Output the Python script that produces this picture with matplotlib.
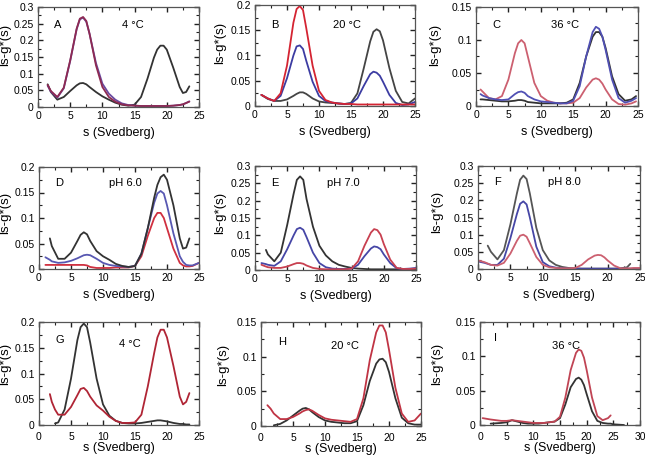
import matplotlib
matplotlib.use("Agg")
import matplotlib.pyplot as plt
import numpy as np
from matplotlib.ticker import MultipleLocator, FormatStrFormatter

nan = np.nan

# ---- panel A (4 C)
a_s = [1.5, 2, 3, 4, 5, 6, 6.5, 7, 7.5, 8, 9, 10, 11, 12, 13, 14, 15, 16, 17, 18, 18.5, 19, 19.5, 20, 21, 22, 22.5, 23, 23.5]
a_black = [0.068, 0.045, 0.022, 0.030, 0.048, 0.065, 0.071, 0.072, 0.068, 0.060, 0.045, 0.032, 0.022, 0.013, 0.007, 0.004, 0.007, 0.030, 0.085, 0.148, 0.172, 0.184, 0.184, 0.172, 0.118, 0.060, 0.042, 0.045, 0.062]
a_blue = [0.064, 0.046, 0.028, 0.056, 0.138, 0.233, 0.263, 0.268, 0.256, 0.220, 0.132, 0.070, 0.040, 0.022, 0.011, 0.006, 0.004, 0.003, 0.003, 0.003, 0.003, 0.003, 0.003, 0.003, 0.004, 0.006, 0.008, 0.012, 0.017]
a_red = [0.066, 0.048, 0.030, 0.058, 0.140, 0.235, 0.265, 0.270, 0.258, 0.220, 0.125, 0.060, 0.030, 0.016, 0.008, 0.005, 0.004, 0.003, 0.003, 0.003, 0.003, 0.003, 0.003, 0.003, 0.004, 0.006, 0.008, 0.012, 0.016]

# ---- panel B (20 C)
b_s = [1, 2, 3, 4, 5, 6, 6.5, 7, 7.5, 8, 9, 10, 11, 12, 13, 14, 15, 16, 17, 18, 18.5, 19, 19.5, 20, 21, 22, 23, 24, 25]
b_black = [0.022, 0.014, 0.010, 0.010, 0.013, 0.020, 0.024, 0.027, 0.027, 0.024, 0.015, 0.009, 0.007, 0.006, 0.005, 0.004, 0.006, 0.025, 0.075, 0.128, 0.147, 0.152, 0.148, 0.130, 0.075, 0.030, 0.008, 0.005, 0.015]
b_blue = [0.022, 0.015, 0.010, 0.020, 0.055, 0.100, 0.118, 0.120, 0.113, 0.090, 0.048, 0.020, 0.010, 0.007, 0.005, 0.004, 0.005, 0.015, 0.040, 0.063, 0.068, 0.066, 0.060, 0.048, 0.022, 0.006, 0.002, 0.003, 0.008]
b_red = [0.022, 0.015, 0.010, 0.025, 0.080, 0.165, 0.192, 0.198, 0.190, 0.155, 0.080, 0.030, 0.012, 0.007, 0.005, 0.004, 0.004, 0.003, 0.003, 0.003, 0.003, 0.003, 0.003, 0.003, 0.003, 0.003, 0.003, 0.003, 0.003]

# ---- panel C (36 C)
c_s = [0.7, 1, 2, 3, 4, 5, 6, 6.5, 7, 7.5, 8, 9, 10, 11, 12, 13, 14, 15, 16, 17, 18, 18.5, 19, 19.5, 20, 21, 22, 23, 24, 24.7]
c_black = [0.010, 0.010, 0.009, 0.008, 0.007, 0.007, 0.008, 0.009, 0.009, 0.008, 0.006, 0.005, 0.004, 0.004, 0.004, 0.004, 0.005, 0.010, 0.035, 0.075, 0.105, 0.112, 0.112, 0.105, 0.088, 0.045, 0.018, 0.008, 0.010, 0.015]
c_blue = [0.018, 0.016, 0.012, 0.010, 0.009, 0.010, 0.018, 0.021, 0.022, 0.020, 0.015, 0.010, 0.007, 0.006, 0.005, 0.004, 0.004, 0.008, 0.030, 0.075, 0.112, 0.120, 0.117, 0.105, 0.085, 0.040, 0.012, 0.005, 0.008, 0.012]
c_red = [0.025, 0.022, 0.012, 0.010, 0.015, 0.040, 0.080, 0.095, 0.100, 0.095, 0.075, 0.035, 0.015, 0.008, 0.005, 0.004, 0.004, 0.005, 0.012, 0.028, 0.040, 0.042, 0.040, 0.034, 0.025, 0.010, 0.003, 0.002, 0.004, 0.007]

# ---- panel D (pH 6.0)
d_s = [1, 1.7, 2, 3, 4, 5, 6, 6.5, 7, 7.5, 8, 9, 10, 11, 12, 13, 14, 15, 16, 17, 18, 18.5, 19, 19.5, 20, 21, 22, 22.5, 23, 23.5, 24, 25]
d_black = [nan, 0.060, 0.045, 0.020, 0.020, 0.032, 0.055, 0.067, 0.072, 0.068, 0.055, 0.035, 0.025, 0.018, 0.010, 0.006, 0.004, 0.006, 0.030, 0.080, 0.140, 0.165, 0.180, 0.185, 0.175, 0.125, 0.060, 0.040, 0.042, 0.060, nan, nan]
d_blue = [0.023, 0.018, 0.015, 0.012, 0.013, 0.016, 0.021, 0.024, 0.027, 0.028, 0.027, 0.020, 0.012, 0.008, 0.006, 0.005, 0.004, 0.006, 0.030, 0.080, 0.130, 0.148, 0.153, 0.148, 0.125, 0.070, 0.025, 0.014, 0.008, 0.007, 0.007, 0.012]
d_red = [0.008, 0.008, 0.008, 0.008, 0.008, 0.008, 0.008, 0.008, 0.008, 0.007, 0.004, 0.002, 0.002, 0.002, 0.003, 0.003, 0.003, 0.006, 0.025, 0.065, 0.100, 0.110, 0.110, 0.100, 0.080, 0.040, 0.012, 0.007, 0.005, 0.005, 0.006, 0.012]

# ---- panel E (pH 7.0)
e_s = [1, 1.7, 2, 3, 4, 5, 6, 6.5, 7, 7.5, 8, 9, 10, 11, 12, 13, 14, 15, 16, 17, 18, 18.5, 19, 19.5, 20, 21, 22, 23, 24, 25]
e_black = [nan, 0.058, 0.045, 0.025, 0.050, 0.130, 0.220, 0.260, 0.270, 0.260, 0.205, 0.125, 0.070, 0.042, 0.025, 0.015, 0.010, 0.006, 0.004, 0.003, 0.002, 0.002, 0.002, 0.002, 0.002, 0.002, 0.002, 0.002, 0.002, 0.002]
e_blue = [0.020, 0.017, 0.015, 0.012, 0.025, 0.060, 0.100, 0.118, 0.122, 0.116, 0.095, 0.050, 0.020, 0.008, 0.004, 0.003, 0.003, 0.004, 0.015, 0.040, 0.062, 0.068, 0.066, 0.060, 0.045, 0.020, 0.005, 0.003, 0.004, 0.006]
e_red = [0.015, 0.010, 0.008, 0.006, 0.006, 0.010, 0.017, 0.020, 0.020, 0.018, 0.013, 0.006, 0.003, 0.002, 0.002, 0.002, 0.002, 0.004, 0.025, 0.070, 0.108, 0.118, 0.115, 0.102, 0.075, 0.030, 0.006, 0.003, 0.003, 0.004]

# ---- panel F (pH 8.0)
f_s = [0, 1, 1.5, 2, 3, 4, 5, 6, 6.5, 7, 7.5, 8, 9, 10, 11, 12, 13, 14, 15, 16, 17, 18, 18.5, 19, 19.5, 20, 21, 22, 23, 23.5, 24, 25]
f_black = [nan, nan, 0.068, 0.050, 0.028, 0.055, 0.130, 0.220, 0.260, 0.272, 0.262, 0.220, 0.120, 0.055, 0.025, 0.012, 0.006, 0.003, 0.002, 0.001, 0.001, 0.001, 0.001, 0.001, 0.001, 0.001, 0.001, 0.002, 0.005, 0.015, nan, nan]
f_blue = [0.022, 0.018, 0.015, 0.012, 0.012, 0.030, 0.090, 0.160, 0.190, 0.197, 0.188, 0.150, 0.065, 0.020, 0.008, 0.004, 0.002, 0.001, 0.001, 0.001, 0.001, 0.001, 0.001, 0.001, 0.001, 0.001, 0.001, 0.001, 0.001, 0.001, 0.001, 0.002]
f_red = [0.025, 0.020, 0.016, 0.012, 0.010, 0.018, 0.045, 0.082, 0.097, 0.100, 0.094, 0.075, 0.035, 0.012, 0.005, 0.003, 0.002, 0.002, 0.003, 0.012, 0.028, 0.039, 0.041, 0.040, 0.034, 0.025, 0.010, 0.002, 0.002, 0.002, 0.003, 0.003]

# ---- panel G (4 C)
g_s = [1.7, 2, 2.5, 3, 4, 5, 6, 6.5, 7, 7.5, 8, 9, 10, 11, 12, 13, 14, 15, 16, 17, 18, 18.5, 19, 19.5, 20, 21, 22, 22.5, 23, 23.5]
g_black = [nan, nan, 0.003, 0.005, 0.030, 0.090, 0.165, 0.190, 0.197, 0.190, 0.160, 0.090, 0.040, 0.018, 0.008, 0.004, 0.003, 0.003, 0.004, 0.006, 0.008, 0.009, 0.009, 0.008, 0.007, 0.004, 0.002, 0.002, 0.001, 0.001]
g_red = [0.060, 0.045, 0.030, 0.020, 0.020, 0.035, 0.058, 0.070, 0.072, 0.066, 0.055, 0.038, 0.028, 0.016, 0.008, 0.004, 0.004, 0.005, 0.020, 0.075, 0.140, 0.170, 0.185, 0.185, 0.170, 0.115, 0.055, 0.040, 0.045, 0.062]

# ---- panel H (20 C)
h_s = [1, 1.5, 2, 3, 4, 5, 6, 6.5, 7, 7.5, 8, 9, 10, 11, 12, 13, 14, 15, 16, 17, 18, 18.5, 19, 19.5, 20, 21, 22, 23, 24, 25]
h_black = [nan, nan, 0.001, 0.003, 0.008, 0.015, 0.022, 0.025, 0.026, 0.024, 0.020, 0.013, 0.008, 0.006, 0.005, 0.004, 0.004, 0.007, 0.030, 0.065, 0.090, 0.096, 0.097, 0.092, 0.078, 0.040, 0.012, 0.004, 0.002, 0.002]
h_red = [0.030, 0.025, 0.018, 0.010, 0.010, 0.013, 0.018, 0.021, 0.023, 0.024, 0.022, 0.016, 0.011, 0.009, 0.008, 0.007, 0.006, 0.010, 0.040, 0.095, 0.135, 0.145, 0.145, 0.135, 0.110, 0.055, 0.018, 0.006, 0.008, 0.018]

# ---- panel I (36 C)
i_s = [0.5, 2, 4, 5, 6, 7, 8, 9, 10, 11, 12, 13, 14, 15, 16, 17, 18, 18.5, 19, 19.5, 20, 21, 22, 23, 24, 24.5, 25, 27]
i_black = [nan, 0.002, 0.003, 0.004, 0.007, 0.005, 0.003, 0.002, 0.002, 0.002, 0.003, 0.004, 0.005, 0.010, 0.030, 0.055, 0.067, 0.069, 0.066, 0.058, 0.045, 0.020, 0.006, 0.003, 0.002, 0.002, 0.001, 0.000]
i_red = [0.010, 0.008, 0.006, 0.006, 0.007, 0.006, 0.005, 0.004, 0.003, 0.003, 0.003, 0.004, 0.005, 0.012, 0.040, 0.080, 0.105, 0.110, 0.108, 0.098, 0.080, 0.040, 0.013, 0.007, 0.010, 0.014, nan, nan]

letters = ["A", "B", "C", "D", "E", "F", "G", "H", "I"]
conditions = ["4 °C", "20 °C", "36 °C", "pH 6.0", "pH 7.0", "pH 8.0", "4 °C", "20 °C", "36 °C"]

plt.rcParams['font.family'] = ['Liberation Sans', 'DejaVu Sans']

BLACK = "#333333"
BLUE = "#4646a6"
PINK = "#cc6070"

fig = plt.figure(figsize=(6.45, 4.57), dpi=100)
W, H = 645.0, 457.0

# axes boxes in pixels: left, right, top, bottom
boxes = [(38, 199, 7, 107), (255, 415, 5, 106), (476, 638, 7, 106),
         (39, 199, 167, 269), (255, 416, 166, 270), (478, 640, 166, 269),
         (39, 199, 322, 425), (261, 421, 322, 426), (480, 640, 322, 425)]

# (ymax, ymajor, xmax)
limits = [(0.3, 0.05, 25), (0.2, 0.05, 25), (0.15, 0.05, 25),
          (0.2, 0.05, 25), (0.3, 0.05, 25), (0.3, 0.05, 25),
          (0.2, 0.05, 25), (0.15, 0.05, 25), (0.15, 0.05, 30)]

# y label position in axes fraction (x, y)
ylab_pos = [(-0.168, 0.62), (-0.18, 0.62), (-0.216, 0.62),
            (-0.175, 0.55), (-0.18, 0.55), (-0.216, 0.55),
            (-0.175, 0.59), (-0.20, 0.59), (-0.23, 0.59)]

# text positions (axes fraction): letter x, letter y, condition x, condition y
text_pos = [(0.10, 0.82, 0.52, 0.82), (0.10, 0.80, 0.49, 0.80), (0.10, 0.82, 0.46, 0.82),
            (0.10, 0.84, 0.44, 0.84), (0.10, 0.84, 0.45, 0.84), (0.10, 0.84, 0.43, 0.84),
            (0.10, 0.83, 0.50, 0.79), (0.11, 0.81, 0.44, 0.77), (0.09, 0.84, 0.45, 0.77)]

curves = [
    [(a_s, a_black, BLACK), (a_s, a_blue, "#6a4aa0"), (a_s, a_red, "#8e2a52")],
    [(b_s, b_black, "#444444"), (b_s, b_blue, "#3c3ca2"), (b_s, b_red, "#d42432")],
    [(c_s, c_red, PINK), (c_s, c_black, BLACK), (c_s, c_blue, "#5050b4")],
    [(d_s, d_red, "#d03040"), (d_s, d_blue, "#5858b2"), (d_s, d_black, BLACK)],
    [(e_s, e_black, BLACK), (e_s, e_blue, BLUE), (e_s, e_red, "#c84050")],
    [(f_s, f_black, "#555555"), (f_s, f_blue, BLUE), (f_s, f_red, PINK)],
    [(g_s, g_black, BLACK), (g_s, g_red, "#b02535")],
    [(h_s, h_black, BLACK), (h_s, h_red, "#c03444")],
    [(i_s, i_black, BLACK), (i_s, i_red, "#c04454")],
]

for k in range(9):
    l, r, t, b = boxes[k]
    ax = fig.add_axes([l / W, 1 - b / H, (r - l) / W, (b - t) / H])
    for s, y, col in curves[k]:
        ax.plot(s, y, color=col, lw=1.3, solid_capstyle='round')
    ymax, ymaj, xmax = limits[k]
    ax.set_xlim(0, xmax)
    ax.set_ylim(0, ymax)
    ax.xaxis.set_major_locator(MultipleLocator(5))
    ax.xaxis.set_minor_locator(MultipleLocator(2.5))
    ax.yaxis.set_major_locator(MultipleLocator(ymaj))
    ax.yaxis.set_minor_locator(MultipleLocator(ymaj / 2))
    ax.yaxis.set_major_formatter(FormatStrFormatter('%g'))
    ax.tick_params(which='both', direction='in', top=True, right=True,
                   labelsize=7.5, color='#222222', pad=3)
    ax.tick_params(which='major', length=3.5, width=1.0)
    ax.tick_params(which='minor', length=2, width=0.8)
    if k >= 6:
        ax.tick_params(axis='x', pad=5)
    for sp in ax.spines.values():
        sp.set_color('#555555')
        sp.set_linewidth(0.9)
    ax.set_xlabel("s (Svedberg)", fontsize=9, labelpad=0 if k >= 6 else 4)
    ax.set_ylabel("ls-g*(s)", fontsize=9.5)
    ax.yaxis.set_label_coords(*ylab_pos[k])
    lx, ly, cx, cy = text_pos[k]
    ax.text(lx, ly, letters[k], transform=ax.transAxes, fontsize=8, va='center', ha='left')
    ax.text(cx, cy, conditions[k], transform=ax.transAxes, fontsize=8, va='center', ha='left')

fig.savefig("out.png", dpi=100)
